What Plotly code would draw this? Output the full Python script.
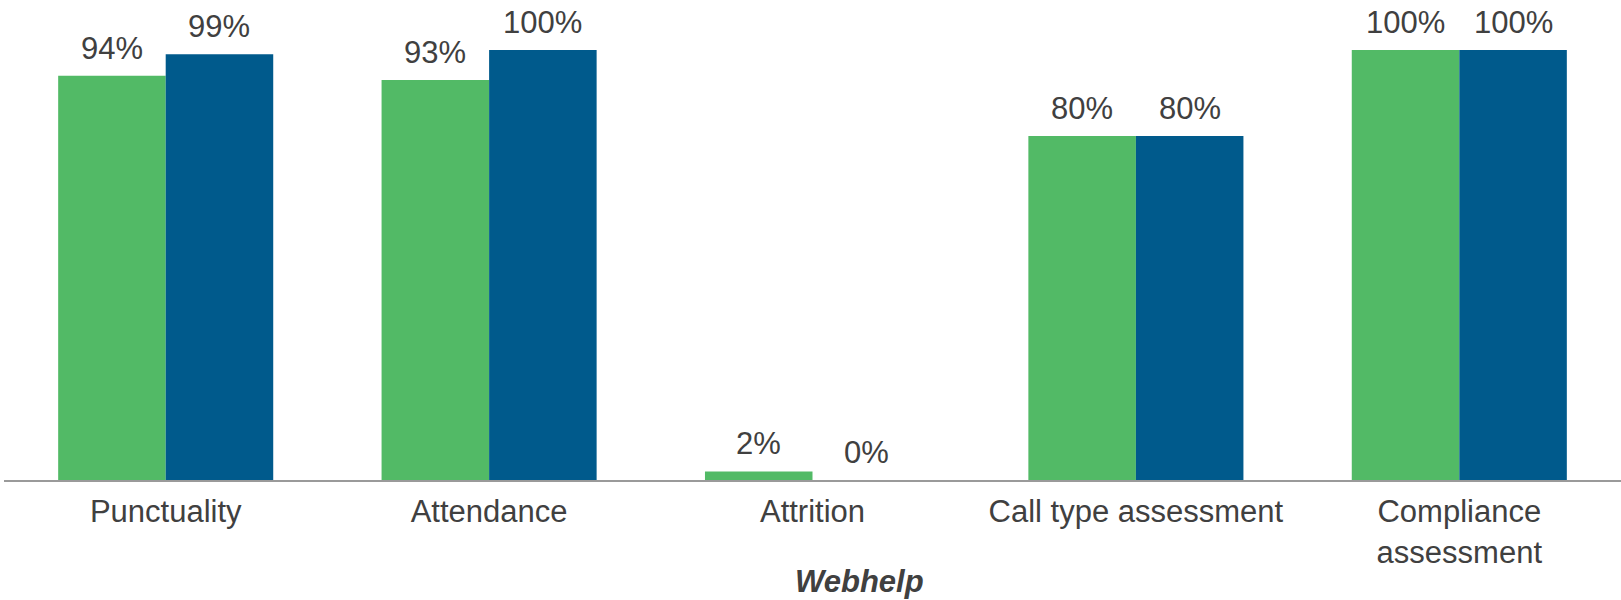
import plotly.graph_objects as go

categories = ["Punctuality", "Attendance", "Attrition", "Call type assessment", "Compliance<br>assessment"]
series_a = [0.94, 0.93, 0.02, 0.80, 1.00]
series_b = [0.99, 1.00, 0.00, 0.80, 1.00]
labels_a = ["94%", "93%", "2%", "80%", "100%"]
labels_b = ["99%", "100%", "0%", "80%", "100%"]
title_text = "Webhelp"

GREEN = "#52BA66"
BLUE = "#005A8C"
TXT = "#404040"
FONT = "Liberation Sans, Arial, sans-serif"
BARGAP = 0.335

fig = go.Figure()
fig.add_trace(go.Bar(x=categories, y=series_a, marker=dict(color=GREEN, line=dict(width=0)), name="A"))
fig.add_trace(go.Bar(x=categories, y=series_b, marker=dict(color=BLUE, line=dict(width=0)), name="B"))

off = (1 - BARGAP) / 4
annotations = []
for i, (va, vb, la, lb) in enumerate(zip(series_a, series_b, labels_a, labels_b)):
    for x, v, t in ((i - off, va, la), (i + off, vb, lb)):
        annotations.append(dict(x=x, y=v, xref="x", yref="y", text=t, showarrow=False,
                                yanchor="bottom", yshift=8,
                                font=dict(family=FONT, size=31, color=TXT)))
annotations.append(dict(x=0.529, y=-0.237, xref="paper", yref="paper", text="<b><i>" + title_text + "</i></b>",
                        showarrow=False, xanchor="center", yanchor="middle",
                        font=dict(family=FONT, size=31, color=TXT)))

fig.update_layout(
    width=1621, height=600,
    margin=dict(l=4, r=0, t=50, b=120, autoexpand=False),
    paper_bgcolor="white", plot_bgcolor="white",
    barmode="group", bargap=BARGAP, bargroupgap=0,
    showlegend=False,
    annotations=annotations,
    font=dict(family=FONT, size=31, color=TXT),
)
fig.update_xaxes(showline=True, linecolor="#9a9a9a", linewidth=2, ticks="", showgrid=False,
                 automargin=False,
                 tickfont=dict(family=FONT, size=31, color=TXT), ticklabelstandoff=3)
fig.update_yaxes(range=[0, 1], visible=False, showgrid=False, zeroline=False, automargin=False)

fig.write_html("out.html", config={"displayModeBar": False},
               post_script="document.body.style.margin='0px';document.body.style.overflow='hidden';")
